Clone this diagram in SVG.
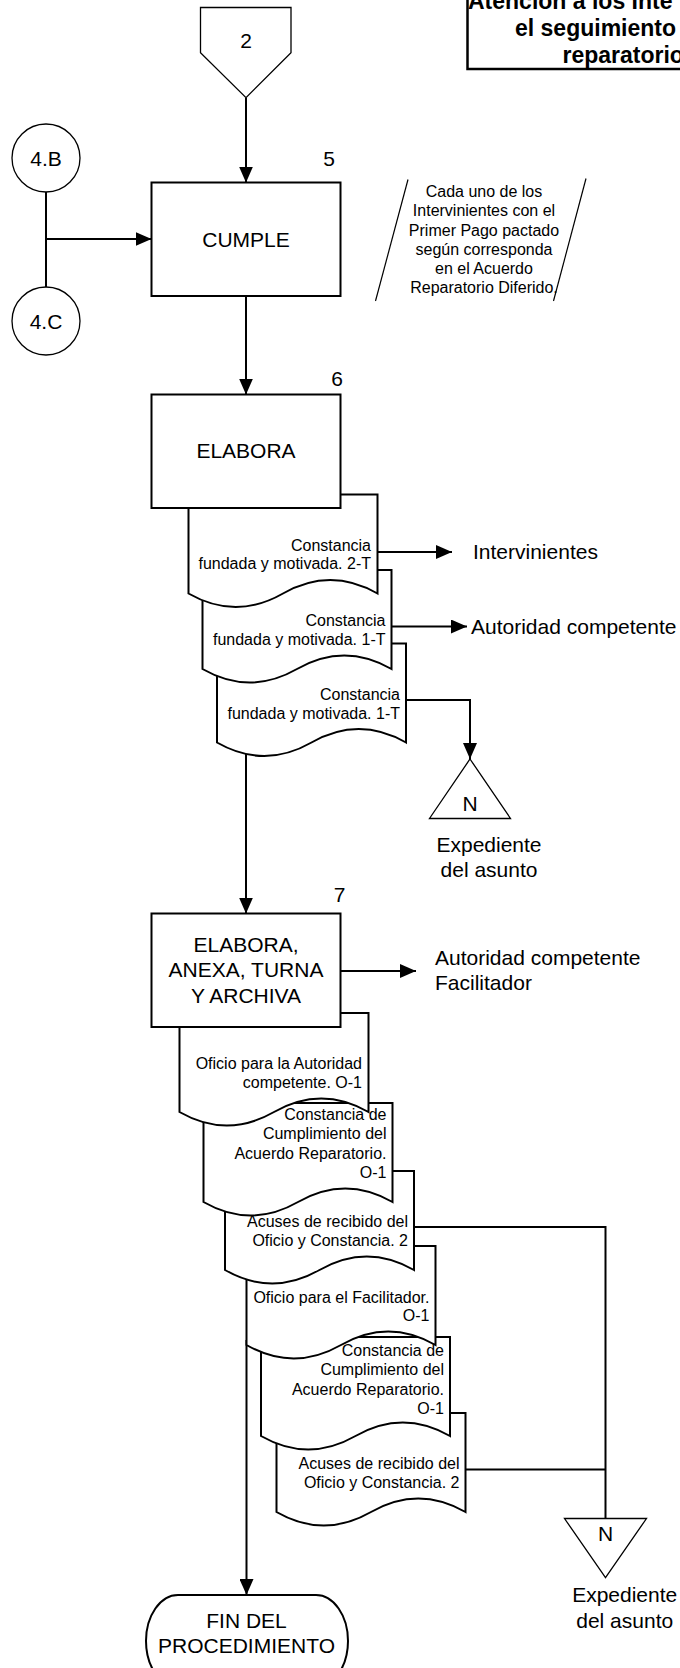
<svg xmlns="http://www.w3.org/2000/svg" width="680" height="1668" viewBox="0 0 680 1668">
<style>
  text { font-family: "Liberation Sans", Arial, Helvetica, sans-serif; fill: #000; }
  .lg { font-size: 21px; }
  .sm { font-size: 16px; }
  .mid { text-anchor: middle; }
  .end { text-anchor: end; }
  .ttl { font-size: 23px; font-weight: bold; }
  .box { fill: #fff; stroke: #000; stroke-width: 2; }
  .doc { fill: #fff; stroke: #000; stroke-width: 2; }
  .sym { fill: #fff; stroke: #000; stroke-width: 1.3; }
  .note { fill: none; stroke: #000; stroke-width: 1.2; }
  .conn { fill: none; stroke: #000; stroke-width: 2; }
  .arr { marker-end: url(#ah); }
</style>
<defs>
  <marker id="ah" markerUnits="userSpaceOnUse" markerWidth="16" markerHeight="14" refX="16" refY="7" orient="auto">
    <path d="M0,0 L16,7 L0,14 Z" fill="#000"/>
  </marker>
</defs>

<rect x="0" y="0" width="680" height="1668" fill="#fff"/>

<!-- connectors (drawn under the shapes) -->
<g id="connectors">
  <path class="conn arr" d="M246,97.7 V182.5"/>
  <path class="conn" d="M46,192 V287"/>
  <path class="conn arr" d="M46,239 H151.5"/>
  <path class="conn arr" d="M246,296 V394.5"/>
  <path class="conn arr" d="M377.5,552 H452"/>
  <path class="conn arr" d="M391.5,626.5 H467"/>
  <path class="conn arr" d="M406,700 H470 V759"/>
  <path class="conn arr" d="M246,745 V913.5"/>
  <path class="conn arr" d="M340.5,971 H416"/>
  <path class="conn" d="M414,1227 H605.5 V1518.5"/>
  <path class="conn" d="M465.5,1469.5 H605.5"/>
  <path class="conn arr" d="M246.5,1340 V1595"/>
</g>

<!-- title block -->
<g id="title">
  <rect x="467.5" y="-40" width="260" height="109" fill="#fff" stroke="#000" stroke-width="2.5"/>
  <text class="ttl" x="468" y="9">Atención a los Inte</text>
  <text class="ttl" x="515" y="35.8">el seguimiento</text>
  <text class="ttl" x="562.5" y="62.5">reparatorio</text>
</g>

<!-- off-page connector -->
<g id="offpage-2">
  <polygon class="sym" stroke-width="1" points="200.5,7.5 291,7.5 291,52.7 246,97.7 200.5,52.7"/>
  <text class="lg mid" x="246" y="48.3">2</text>
</g>

<g id="conn-4B">
  <circle class="sym" cx="46" cy="158" r="34"/>
  <text class="lg mid" x="46" y="165.5">4.B</text>
</g>

<g id="conn-4C">
  <circle class="sym" cx="46" cy="321" r="34"/>
  <text class="lg mid" x="46" y="328.5">4.C</text>
</g>

<!-- step 5 -->
<g id="step5">
  <rect class="box" x="151.5" y="182.5" width="189" height="113.5"/>
  <text class="lg mid" x="246" y="246.7">CUMPLE</text>
  <text class="lg mid" x="329" y="165.7">5</text>
</g>

<g id="note5">
  <path class="note" d="M408,179.5 L375.5,301"/>
  <path class="note" d="M586,178.5 L553.5,301"/>
  <text class="sm mid" x="484" y="197.3">Cada uno de los</text>
  <text class="sm mid" x="484" y="216.4">Intervinientes con el</text>
  <text class="sm mid" x="484" y="235.5">Primer Pago pactado</text>
  <text class="sm mid" x="484" y="254.6">según corresponda</text>
  <text class="sm mid" x="484" y="273.7">en el Acuerdo</text>
  <text class="sm mid" x="484" y="292.8">Reparatorio Diferido.</text>
</g>

<!-- step 6 documents (back to front) -->
<g id="doc6-3">
  <path class="doc" d="M217,643.5 H406 V742.5 C374.5,724.5 343,724.5 311.5,742.5 C280,760.5 248.5,760.5 217,742.5 Z"/>
  <text class="sm end" x="400" y="699.5">Constancia</text>
  <text class="sm end" x="400" y="718.5">fundada y motivada. 1-T</text>
</g>
<g id="doc6-2">
  <path class="doc" d="M202.5,570 H391.5 V669 C360,651 328.5,651 297,669 C265.5,687 234,687 202.5,669 Z"/>
  <text class="sm end" x="385.5" y="626">Constancia</text>
  <text class="sm end" x="385.5" y="645">fundada y motivada. 1-T</text>
</g>
<g id="doc6-1">
  <path class="doc" d="M188.5,494.5 H377.5 V593.5 C346,575.5 314.5,575.5 283,593.5 C251.5,611.5 220,611.5 188.5,593.5 Z"/>
  <text class="sm end" x="371" y="550.5">Constancia</text>
  <text class="sm end" x="371" y="569">fundada y motivada. 2-T</text>
</g>

<g id="step6">
  <rect class="box" x="151.5" y="394.5" width="189" height="113.5"/>
  <text class="lg mid" x="246" y="458.3">ELABORA</text>
  <text class="lg mid" x="337" y="385.5">6</text>
</g>

<g id="dest-intervinientes">
  <text class="lg" x="473" y="559">Intervinientes</text>
</g>
<g id="dest-autoridad-1">
  <text class="lg" x="471" y="633.5">Autoridad competente</text>
</g>

<g id="archive-1">
  <polygon class="sym" points="470,759 510.5,818.5 429.5,818.5"/>
  <text class="lg mid" x="470" y="811">N</text>
  <text class="lg mid" x="489" y="851.7">Expediente</text>
  <text class="lg mid" x="489" y="876.7">del asunto</text>
</g>

<!-- step 7 documents (back to front) -->
<g id="doc7-6">
  <path class="doc" d="M276.5,1413 H465.5 V1512 C434,1494 402.5,1494 371,1512 C339.5,1530 308,1530 276.5,1512 Z"/>
  <text class="sm end" x="459.5" y="1468.5">Acuses de recibido del</text>
  <text class="sm end" x="459.5" y="1487.5">Oficio y Constancia. 2</text>
</g>
<g id="doc7-5">
  <path class="doc" d="M261,1337 H450 V1436 C418.5,1418 387,1418 355.5,1436 C324,1454 292.5,1454 261,1436 Z"/>
  <text class="sm end" x="444" y="1355.5">Constancia de</text>
  <text class="sm end" x="444" y="1375">Cumplimiento del</text>
  <text class="sm end" x="444" y="1394.5">Acuerdo Reparatorio.</text>
  <text class="sm end" x="444" y="1414">O-1</text>
</g>
<g id="doc7-4">
  <path class="doc" d="M246.5,1246 H435.5 V1345 C404,1327 372.5,1327 341,1345 C309.5,1363 278,1363 246.5,1345 Z"/>
  <text class="sm end" x="429.5" y="1302.5">Oficio para el Facilitador.</text>
  <text class="sm end" x="429.5" y="1321">O-1</text>
</g>
<g id="doc7-3">
  <path class="doc" d="M225,1171 H414 V1270 C382.5,1252 351,1252 319.5,1270 C288,1288 256.5,1288 225,1270 Z"/>
  <text class="sm end" x="408" y="1226.5">Acuses de recibido del</text>
  <text class="sm end" x="408" y="1246">Oficio y Constancia. 2</text>
</g>
<g id="doc7-2">
  <path class="doc" d="M203.5,1103 H392.5 V1202 C361,1184 329.5,1184 298,1202 C266.5,1220 235,1220 203.5,1202 Z"/>
  <text class="sm end" x="386.5" y="1120">Constancia de</text>
  <text class="sm end" x="386.5" y="1139">Cumplimiento del</text>
  <text class="sm end" x="386.5" y="1158.5">Acuerdo Reparatorio.</text>
  <text class="sm end" x="386.5" y="1178">O-1</text>
</g>
<g id="doc7-1">
  <path class="doc" d="M179.5,1013 H368.5 V1112 C337,1094 305.5,1094 274,1112 C242.5,1130 211,1130 179.5,1112 Z"/>
  <text class="sm end" x="362" y="1069">Oficio para la Autoridad</text>
  <text class="sm end" x="362" y="1088">competente. O-1</text>
</g>

<g id="step7">
  <rect class="box" x="151.5" y="913.5" width="189" height="113.5"/>
  <text class="lg mid" x="246" y="951.7">ELABORA,</text>
  <text class="lg mid" x="246" y="977.2">ANEXA, TURNA</text>
  <text class="lg mid" x="246" y="1002.7">Y ARCHIVA</text>
  <text class="lg mid" x="339.5" y="901.7">7</text>
</g>

<g id="dest-autoridad-2">
  <text class="lg" x="435" y="965">Autoridad competente</text>
  <text class="lg" x="435" y="989.5">Facilitador</text>
</g>

<g id="archive-2">
  <polygon class="sym" points="564.5,1518.5 646.5,1518.5 605.5,1577.5"/>
  <text class="lg mid" x="605.5" y="1540.7">N</text>
  <text class="lg mid" x="624.7" y="1601.7">Expediente</text>
  <text class="lg mid" x="624.7" y="1628.3">del asunto</text>
</g>

<g id="end">
  <rect class="box" x="146" y="1595" width="202" height="92" rx="32" ry="46"/>
  <text class="lg mid" x="246.5" y="1628.3">FIN DEL</text>
  <text class="lg mid" x="246.5" y="1653.3">PROCEDIMIENTO</text>
</g>
</svg>
